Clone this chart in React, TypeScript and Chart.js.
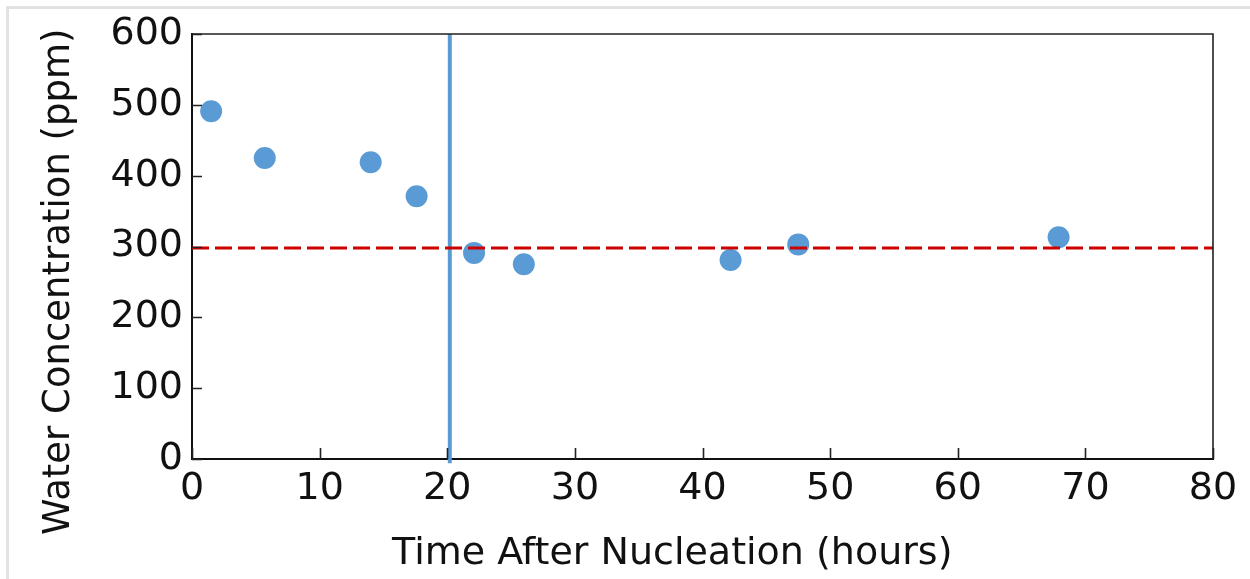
import React, { useEffect, useRef } from "react";
import { Chart, registerables } from "chart.js";

Chart.register(...registerables);

const timeHours = [1.5, 5.7, 14.0, 17.6, 22.1, 26.0, 42.2, 47.5, 67.9];
const waterPpm = [491, 425, 419, 371, 291, 275, 281, 303, 313];
const nucleationTime = 20.2;
const referencePpm = 298;
const xTicks = [0, 10, 20, 30, 40, 50, 60, 70, 80];
const yTicks = [0, 100, 200, 300, 400, 500, 600];

const inwardTicks = {
  id: "inwardTicks",
  afterDraw(chart: any) {
    const { ctx, chartArea, scales } = chart;
    const { left, right, top, bottom } = chartArea;
    ctx.save();
    ctx.strokeStyle = "#222";
    ctx.lineWidth = 1.6;
    ctx.beginPath();
    ctx.moveTo(left, top);
    ctx.lineTo(right, top);
    ctx.lineTo(right, bottom);
    ctx.stroke();
    ctx.lineWidth = 1.6;
    ctx.beginPath();
    for (const v of xTicks) {
      const px = Math.round(scales.x.getPixelForValue(v)) + 0.5;
      ctx.moveTo(px, bottom);
      ctx.lineTo(px, bottom - 11);
    }
    for (const v of yTicks) {
      const py = Math.round(scales.y.getPixelForValue(v)) + 0.5;
      ctx.moveTo(left, py);
      ctx.lineTo(left + 10, py);
    }
    ctx.stroke();
    ctx.restore();
  },
};

export default function App() {
  const ref = useRef<HTMLCanvasElement>(null);
  useEffect(() => {
    document.body.style.margin = "0";
    document.body.style.overflow = "hidden";
    const chart = new Chart(ref.current as HTMLCanvasElement, {
      type: "scatter",
      data: {
        datasets: [
          {
            label: "reference",
            type: "line",
            data: [
              { x: 0, y: referencePpm },
              { x: 80, y: referencePpm },
            ],
            borderColor: "#cc0000",
            borderWidth: 3,
            borderDash: [17, 6],
            pointRadius: 0,
            order: 0,
          },
          {
            label: "water",
            data: timeHours.map((t, i) => ({ x: t, y: waterPpm[i] })),
            backgroundColor: "#5b9bd5",
            borderColor: "#5b9bd5",
            pointRadius: 11,
            borderWidth: 0,
            order: 1,
          },
          {
            label: "nucleation",
            type: "line",
            data: [
              { x: nucleationTime, y: -6 },
              { x: nucleationTime, y: 600 },
            ],
            borderColor: "#5b9bd5",
            borderWidth: 4,
            pointRadius: 0,
            clip: false as any,
            order: 2,
          },
        ],
      },
      options: {
        animation: false,
        responsive: false,
        layout: { padding: { top: 25, right: 37, left: 0, bottom: 0 } },
        plugins: { legend: { display: false }, tooltip: { enabled: false } },
        scales: {
          x: {
            type: "linear",
            min: 0,
            max: 80,
            afterFit(scale: any) {
              scale.height = 120;
              scale.paddingLeft = 0;
              scale.paddingRight = 0;
            },
            afterBuildTicks(scale: any) {
              scale.ticks = xTicks.map((v) => ({ value: v }));
            },
            grid: { display: false, drawTicks: false },
            border: { display: true, color: "#111", width: 2 },
            ticks: {
              padding: 7,
              color: "#111",
              font: { family: "DejaVu Sans", size: 38 },
            },
            title: {
              display: true,
              text: "Time After Nucleation (hours)\u00a0\u00a0\u00a0\u00a0\u00a0",
              color: "#111",
              font: { family: "DejaVu Sans", size: 38 },
              padding: { top: 0, bottom: 2 },
            },
          },
          y: {
            type: "linear",
            min: 0,
            max: 600,
            afterFit(scale: any) {
              scale.width = 183;
              scale.paddingTop = 0;
              scale.paddingBottom = 0;
            },
            afterBuildTicks(scale: any) {
              scale.ticks = yTicks.map((v) => ({ value: v }));
            },
            grid: { display: false, drawTicks: false },
            border: { display: true, color: "#111", width: 2 },
            ticks: {
              padding: 9,
              color: "#111",
              font: { family: "DejaVu Sans", size: 38 },
            },
            title: {
              display: true,
              text: "Water Concentration (ppm)\u00a0\u00a0\u00a0\u00a0\u00a0\u00a0",
              color: "#111",
              font: { family: "DejaVu Sans", size: 37 },
              padding: { top: 28, bottom: 0 },
            },
          },
        },
      },
      plugins: [inwardTicks],
    } as any);
    return () => chart.destroy();
  }, []);
  return (
    <div
      style={{
        marginLeft: 6,
        marginTop: 6,
        width: 1241,
        height: 570,
        borderTop: "3px solid #e2e2e2",
        borderLeft: "3px solid #e2e2e2",
      }}
    >
      <canvas ref={ref} width={1241} height={570} style={{ display: "block" }} />
    </div>
  );
}
